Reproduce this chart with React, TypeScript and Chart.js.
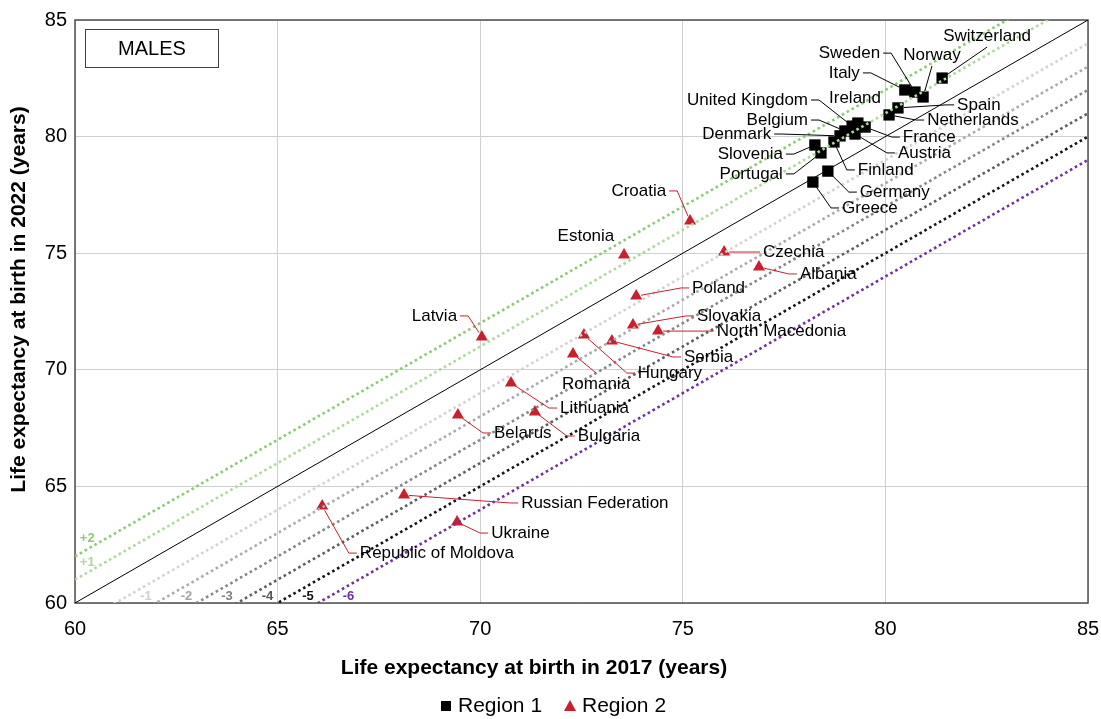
import React, { useEffect, useRef } from "react";
import { Chart, registerables } from "chart.js";

Chart.register(...registerables);

// ---------- data ----------
const region1Names = [
  "Switzerland", "Italy", "Sweden", "Norway", "Spain", "Netherlands", "Ireland", "France",
  "United Kingdom", "Belgium", "Austria", "Denmark", "Finland", "Slovenia", "Portugal", "Germany", "Greece",
];
const region1Le2017 = [81.4, 80.48, 80.73, 80.93, 80.31, 80.09, 79.32, 79.5, 79.18, 79.0, 79.25, 78.88, 78.73, 78.26, 78.41, 78.58, 78.21];
const region1Le2022 = [82.51, 82.0, 81.91, 81.7, 81.23, 80.93, 80.58, 80.41, 80.45, 80.24, 80.11, 80.03, 79.77, 79.64, 79.3, 78.52, 78.05];

const region2Names = [
  "Croatia", "Estonia", "Czechia", "Albania", "Poland", "Slovakia", "North Macedonia", "Hungary",
  "Serbia", "Romania", "Latvia", "Lithuania", "Belarus", "Bulgaria", "Russian Federation", "Republic of Moldova", "Ukraine",
];
const region2Le2017 = [75.18, 73.55, 76.02, 76.88, 73.85, 73.77, 74.39, 72.56, 73.25, 72.29, 70.04, 70.76, 69.45, 71.35, 68.12, 66.1, 69.43];
const region2Le2022 = [76.38, 74.92, 75.05, 74.41, 73.16, 71.92, 71.66, 71.49, 71.24, 70.68, 71.41, 69.43, 68.06, 68.19, 64.63, 64.16, 63.47];

const axisMin = 60;
const axisMax = 85;
const axisStep = 5;

const diagonalOffsets = [2, 1, 0, -1, -2, -3, -4, -5, -6];
const diagonalLabels = ["+2", "+1", "", "-1", "-2", "-3", "-4", "-5", "-6"];
const diagonalColors = ["#8ccb72", "#acd99c", "#000000", "#d2d2d2", "#ababab", "#878787", "#5e5e5e", "#151515", "#7030a0"];
const diagonalLabelColors = ["#8ccb72", "#acd99c", "#000000", "#cfcfcf", "#a3a3a3", "#808080", "#555555", "#111111", "#7030a0"];

// label placement (data units) : [labelX, labelY, mode]
// mode: L = text starts at labelX, R = text ends at labelX, T = label above point, B = label below point, N = no leader
const labelPlacement: Record<string, [number, number, string]> = {
  Switzerland: [82.51, 84.31, "T"],
  Sweden: [79.87, 83.58, "R"],
  Italy: [79.37, 82.73, "R"],
  Norway: [81.15, 83.5, "T"],
  Ireland: [79.25, 81.66, "N"],
  "United Kingdom": [78.09, 81.57, "R"],
  Belgium: [78.09, 80.71, "R"],
  Denmark: [77.18, 80.11, "R"],
  Slovenia: [77.47, 79.25, "R"],
  Portugal: [77.47, 78.4, "R"],
  Finland: [79.32, 78.57, "L"],
  Germany: [79.37, 77.62, "L"],
  Greece: [78.93, 76.94, "L"],
  Spain: [81.77, 81.36, "L"],
  Netherlands: [81.03, 80.71, "L"],
  France: [80.43, 79.98, "L"],
  Austria: [80.31, 79.3, "L"],
  Croatia: [74.59, 77.67, "R"],
  Estonia: [72.61, 75.74, "N"],
  Czechia: [76.98, 75.05, "L"],
  Albania: [77.89, 74.11, "L"],
  Poland: [75.23, 73.51, "L"],
  Slovakia: [75.35, 72.31, "L"],
  "North Macedonia": [75.84, 71.66, "L"],
  Serbia: [75.03, 70.55, "L"],
  Hungary: [73.89, 69.86, "L"],
  Romania: [72.86, 69.39, "B"],
  Latvia: [69.43, 72.31, "R"],
  Lithuania: [71.97, 68.36, "L"],
  Belarus: [70.34, 67.29, "L"],
  Bulgaria: [72.41, 67.16, "L"],
  "Russian Federation": [71.01, 64.29, "L"],
  Ukraine: [70.27, 63.0, "L"],
  "Republic of Moldova": [67.03, 62.14, "L"],
};

const FONT = '"Liberation Sans", Arial, Helvetica, sans-serif';
const RED = "#c8202c";

const annotationPlugin = {
  id: "annotations",
  beforeDatasetsDraw(chart: any) {
    const { ctx, chartArea } = chart;
    ctx.save();
    ctx.strokeStyle = "#505050";
    ctx.lineWidth = 1.5;
    ctx.strokeRect(chartArea.left, chartArea.top, chartArea.right - chartArea.left, chartArea.bottom - chartArea.top);
    ctx.restore();
  },
  afterDatasetsDraw(chart: any) {
    const { ctx, chartArea } = chart;
    const xs = chart.scales.x;
    const ys = chart.scales.y;
    ctx.save();

    // diagonal line labels
    ctx.font = `bold 13px ${FONT}`;
    ctx.textBaseline = "middle";
    diagonalOffsets.forEach((k, i) => {
      if (!diagonalLabels[i]) return;
      ctx.fillStyle = diagonalLabelColors[i];
      if (k > 0) {
        ctx.textAlign = "left";
        ctx.fillText(diagonalLabels[i], xs.getPixelForValue(axisMin + 0.12), ys.getPixelForValue(axisMin + k + 0.75));
      } else {
        ctx.textAlign = "center";
        ctx.fillText(diagonalLabels[i], xs.getPixelForValue(axisMin - k + 0.75), ys.getPixelForValue(axisMin + 0.3));
      }
    });

    // point labels with leaders
    ctx.font = `17px ${FONT}`;
    const groups = [
      { names: region1Names, xv: region1Le2017, yv: region1Le2022, color: "#000000", r: 6 },
      { names: region2Names, xv: region2Le2017, yv: region2Le2022, color: RED, r: 5 },
    ];
    groups.forEach((g) => {
      g.names.forEach((name, i) => {
        const p = labelPlacement[name];
        if (!p) return;
        const px = xs.getPixelForValue(g.xv[i]);
        const py = ys.getPixelForValue(g.yv[i]);
        const lx = xs.getPixelForValue(p[0]);
        const ly = ys.getPixelForValue(p[1]);
        const mode = p[2];
        const pts: [number, number][] = [];
        if (mode === "L") {
          ctx.textAlign = "left";
          pts.push([lx - 11, ly], [lx - 3, ly]);
        } else if (mode === "R") {
          ctx.textAlign = "right";
          pts.push([lx + 11, ly], [lx + 3, ly]);
        } else if (mode === "T") {
          ctx.textAlign = "center";
          pts.push([lx, ly + 11]);
        } else if (mode === "B") {
          ctx.textAlign = "center";
          pts.push([lx, ly - 11]);
        } else {
          ctx.textAlign = "center";
        }
        if (pts.length) {
          const [fx, fy] = pts[0];
          const dx = fx - px;
          const dy = fy - py;
          const d = Math.hypot(dx, dy) || 1;
          ctx.beginPath();
          ctx.strokeStyle = g.color;
          ctx.lineWidth = 1;
          ctx.moveTo(px + (dx / d) * g.r, py + (dy / d) * g.r);
          pts.forEach(([a, b]) => ctx.lineTo(a, b));
          ctx.stroke();
        }
        ctx.fillStyle = "#000000";
        ctx.fillText(name, lx, ly);
      });
    });

    // MALES box
    ctx.strokeStyle = "#404040";
    ctx.lineWidth = 1;
    ctx.strokeRect(85.5, 29.5, 133, 38);
    ctx.fillStyle = "#000";
    ctx.font = `20px ${FONT}`;
    ctx.textAlign = "center";
    ctx.fillText("MALES", 152, 49);

    // axis titles
    ctx.font = `bold 21px ${FONT}`;
    ctx.fillText("Life expectancy at birth in 2017 (years)", 534, 668);
    ctx.save();
    ctx.translate(19, (chartArea.top + chartArea.bottom) / 2 - 12);
    ctx.rotate(-Math.PI / 2);
    ctx.fillText("Life expectancy at birth in 2022 (years)", 0, 0);
    ctx.restore();

    // legend
    const ly = 706;
    ctx.fillStyle = "#000";
    ctx.fillRect(441, ly - 5, 10, 10);
    ctx.font = `21px ${FONT}`;
    ctx.textAlign = "left";
    ctx.fillText("Region 1", 458, ly);
    ctx.fillStyle = RED;
    ctx.beginPath();
    ctx.moveTo(570, ly - 6);
    ctx.lineTo(576, ly + 5);
    ctx.lineTo(564, ly + 5);
    ctx.closePath();
    ctx.fill();
    ctx.fillStyle = "#000";
    ctx.fillText("Region 2", 582, ly);

    ctx.restore();
  },
};

export default function App() {
  const canvasRef = useRef<HTMLCanvasElement | null>(null);

  useEffect(() => {
    document.body.style.margin = "0";
    const canvas = canvasRef.current;
    if (!canvas) return;

    const lineDatasets = diagonalOffsets.map((k, i) => ({
      type: "line" as const,
      label: `diag${k}`,
      data: [
        { x: axisMin, y: axisMin + k },
        { x: axisMax, y: axisMax + k },
      ],
      borderColor: diagonalColors[i],
      borderWidth: k === 0 ? 1 : 2.6,
      borderDash: k === 0 ? [] : [2.6, 3],
      pointRadius: 0,
      fill: false,
      tension: 0,
      order: 0,
    }));

    const chart = new Chart(canvas, {
      type: "scatter",
      data: {
        datasets: [
          {
            label: "Region 1",
            data: region1Le2017.map((x, i) => ({ x, y: region1Le2022[i] })),
            pointStyle: "rect",
            pointRadius: 8,
            backgroundColor: "#000000",
            borderColor: "#000000",
            borderWidth: 0,
            order: 1,
          },
          {
            label: "Region 2",
            data: region2Le2017.map((x, i) => ({ x, y: region2Le2022[i] })),
            pointStyle: "triangle",
            pointRadius: 7,
            backgroundColor: RED,
            borderColor: RED,
            borderWidth: 0,
            order: 1,
          },
          ...(lineDatasets as any[]),
        ],
      },
      options: {
        responsive: false,
        maintainAspectRatio: false,
        animation: false,
        layout: { padding: { left: 0, top: 20, right: 13, bottom: 0 } },
        plugins: { legend: { display: false }, tooltip: { enabled: false } },
        scales: {
          x: {
            type: "linear",
            min: axisMin,
            max: axisMax,
            ticks: { stepSize: axisStep, color: "#000", font: { size: 20, family: FONT }, padding: 14 },
            grid: { color: "#cfcfcf", drawTicks: false, lineWidth: 1 },
            border: { display: false },
            afterFit: (s: any) => {
              s.height = 116;
              s.paddingLeft = 0;
              s.paddingRight = 0;
            },
          },
          y: {
            type: "linear",
            min: axisMin,
            max: axisMax,
            ticks: { stepSize: axisStep, color: "#000", font: { size: 20, family: FONT }, padding: 8 },
            grid: { color: "#cfcfcf", drawTicks: false, lineWidth: 1 },
            border: { display: false },
            afterFit: (s: any) => {
              s.width = 75;
              s.paddingTop = 0;
              s.paddingBottom = 0;
            },
          },
        },
      },
      plugins: [annotationPlugin],
    });
    return () => chart.destroy();
  }, []);

  return (
    <div style={{ position: "absolute", left: 0, top: 0, width: 1101, height: 719, background: "#fff" }}>
      <canvas ref={canvasRef} width={1101} height={719} style={{ display: "block" }} />
    </div>
  );
}
